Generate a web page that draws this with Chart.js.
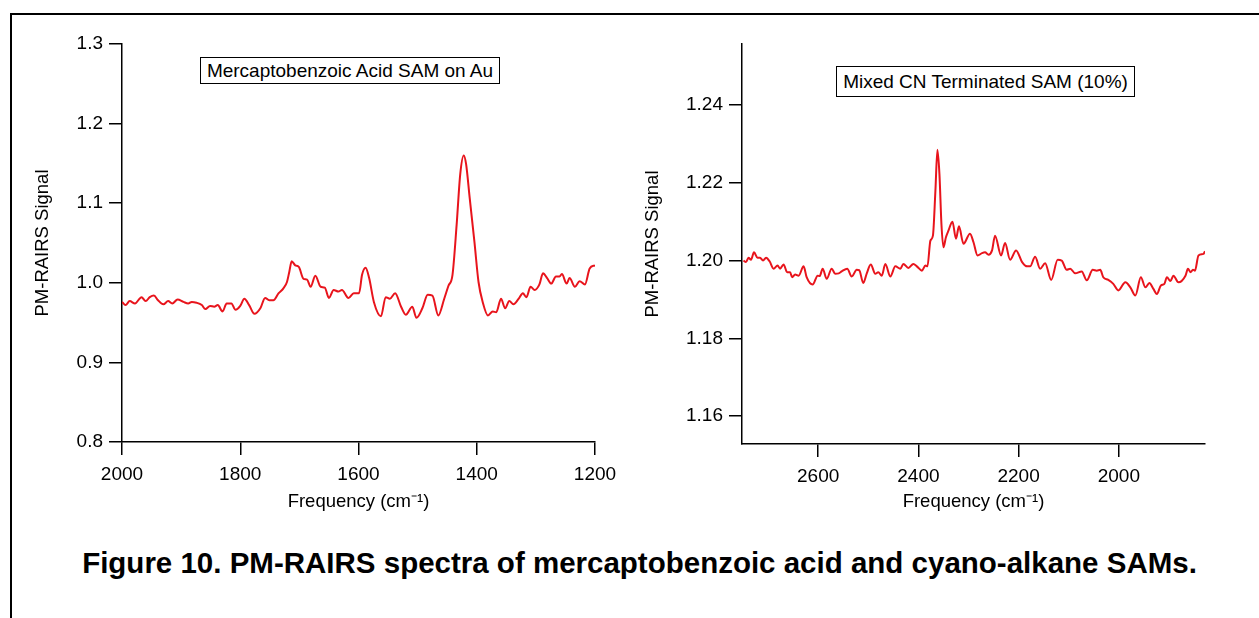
<!DOCTYPE html>
<html>
<head>
<meta charset="utf-8">
<script src="https://cdn.jsdelivr.net/npm/chart.js@4.4.1/dist/chart.umd.min.js"></script>
<style>
    body { margin: 0; width: 1259px; height: 618px; overflow: hidden; background: #fff; position: relative; font-family: "Liberation Sans", Arial, sans-serif; }
    .frame { position: absolute; left: 10px; top: 13px; width: 1260px; height: 620px; border-top: 2px solid #000; border-left: 2px solid #000; }
    canvas { position: absolute; top: 0; }
    #leftChart { left: 0; }
    #rightChart { left: 630px; }
    .note { position: absolute; border: 1.5px solid #000; background: #fff; font-size: 19px; color: #000; white-space: nowrap; text-align: center; }
    #leftNote { left: 200px; top: 57px; width: 298px; height: 25px; line-height: 25px; }
    #rightNote { left: 836px; top: 66px; width: 297px; height: 29px; line-height: 29px; }
    .caption { position: absolute; left: 0; width: 1279px; top: 546px; text-align: center; font-weight: bold; font-size: 29.5px; color: #000; }
</style>
</head>
<body>
<div class="frame"></div>
<canvas id="leftChart" width="630" height="520"></canvas>
<canvas id="rightChart" width="629" height="520"></canvas>
<div class="note" id="leftNote">Mercaptobenzoic Acid SAM on Au</div>
<div class="note" id="rightNote">Mixed CN Terminated SAM (10%)</div>
<div class="caption">Figure 10. PM-RAIRS spectra of mercaptobenzoic acid and cyano-alkane SAMs.</div>
<script>
// Mercaptobenzoic acid spectrum (frequency in cm-1, PM-RAIRS signal)
const leftFreq = [2000, 1994, 1987, 1978, 1967, 1960, 1953, 1946, 1939, 1930,
    1922, 1915, 1906, 1896, 1888, 1882, 1874, 1865, 1859, 1851,
    1844, 1838, 1830, 1823, 1815, 1808, 1800, 1793, 1785, 1776,
    1766, 1758, 1751, 1744, 1735, 1727, 1721, 1717, 1713, 1707,
    1701, 1693, 1687, 1681, 1673, 1664, 1657, 1650, 1642, 1634,
    1628, 1617, 1608, 1599, 1594, 1588, 1582, 1574, 1562, 1554,
    1547, 1538, 1528, 1520, 1509, 1502, 1492, 1483, 1475, 1465,
    1455, 1448, 1441, 1434, 1428, 1422, 1418, 1412, 1404, 1397,
    1390, 1381, 1373, 1367, 1359, 1352, 1345, 1338, 1329, 1322,
    1316, 1309, 1302, 1294, 1288, 1281, 1274, 1266, 1260, 1256,
    1248, 1243, 1234, 1226, 1217, 1209, 1200];
const leftSignal = [0.976, 0.972, 0.977, 0.974, 0.982, 0.977, 0.982, 0.984, 0.978, 0.973,
    0.977, 0.974, 0.979, 0.976, 0.974, 0.976, 0.975, 0.972, 0.967, 0.971,
    0.970, 0.972, 0.964, 0.974, 0.974, 0.966, 0.971, 0.980, 0.972, 0.961,
    0.968, 0.981, 0.978, 0.978, 0.987, 0.993, 1.001, 1.014, 1.027, 1.022,
    1.020, 1.005, 1.004, 0.995, 1.009, 0.995, 0.994, 0.981, 0.991, 0.989,
    0.991, 0.981, 0.987, 0.987, 1.010, 1.019, 1.006, 0.976, 0.958, 0.982,
    0.980, 0.987, 0.970, 0.960, 0.970, 0.956, 0.968, 0.985, 0.984, 0.959,
    0.980, 0.996, 1.010, 1.073, 1.136, 1.160, 1.149, 1.107, 1.052, 1.001,
    0.976, 0.959, 0.964, 0.963, 0.980, 0.968, 0.977, 0.973, 0.980, 0.987,
    0.982, 0.995, 0.991, 0.998, 1.012, 1.006, 0.999, 1.008, 1.008, 1.011,
    0.999, 1.006, 0.995, 1.002, 0.998, 1.018, 1.022];

// Mixed CN terminated SAM spectrum
const rightFreq = [2749, 2744, 2739, 2734, 2728, 2721, 2716, 2710, 2704, 2697,
    2689, 2681, 2676, 2669, 2662, 2656, 2652, 2646, 2639, 2629,
    2623, 2611, 2601, 2597, 2591, 2583, 2573, 2566, 2559, 2553,
    2542, 2533, 2523, 2518, 2510, 2503, 2495, 2486, 2480, 2473,
    2466, 2456, 2446, 2436, 2430, 2420, 2410, 2403, 2393, 2386,
    2382, 2376, 2371, 2366, 2362, 2358, 2354, 2350, 2345, 2340,
    2332, 2325, 2319, 2310, 2297, 2290, 2282, 2273, 2267, 2260,
    2253, 2247, 2235, 2227, 2217, 2205, 2193, 2183, 2177, 2167,
    2157, 2147, 2135, 2122, 2114, 2104, 2097, 2087, 2074, 2064,
    2052, 2044, 2037, 2031, 2021, 2011, 2001, 1987, 1977, 1967,
    1956, 1947, 1939, 1931, 1924, 1916, 1909, 1904, 1897, 1891,
    1881, 1867, 1862, 1857, 1852, 1848, 1841, 1831, 1828];
const rightSignal = [1.2000, 1.1996, 1.2007, 1.2002, 1.2021, 1.2007, 1.2007, 1.2000, 1.2007, 1.1998,
    1.1979, 1.1987, 1.1979, 1.1990, 1.1970, 1.1970, 1.1957, 1.1964, 1.1961, 1.1985,
    1.1957, 1.1938, 1.1961, 1.1960, 1.1979, 1.1953, 1.1979, 1.1966, 1.1967, 1.1972,
    1.1979, 1.1959, 1.1976, 1.1975, 1.1942, 1.1967, 1.1990, 1.1966, 1.1970, 1.1961,
    1.1991, 1.1959, 1.1985, 1.1979, 1.1991, 1.1981, 1.1991, 1.1985, 1.1974, 1.1987,
    1.1985, 1.2051, 1.2064, 1.2180, 1.2285, 1.2223, 1.2094, 1.2034, 1.2060, 1.2077,
    1.2100, 1.2056, 1.2088, 1.2043, 1.2069, 1.2047, 1.2013, 1.2019, 1.2021, 1.2015,
    1.2026, 1.2064, 1.2013, 1.2045, 1.2002, 1.2026, 1.1996, 1.1985, 1.1985, 1.2010,
    1.1979, 1.1993, 1.1950, 1.2002, 1.2000, 1.1976, 1.1979, 1.1967, 1.1972, 1.1949,
    1.1976, 1.1974, 1.1976, 1.1957, 1.1950, 1.1940, 1.1923, 1.1944, 1.1931, 1.1910,
    1.1957, 1.1931, 1.1942, 1.1927, 1.1914, 1.1936, 1.1940, 1.1957, 1.1947, 1.1961,
    1.1944, 1.1961, 1.1979, 1.1970, 1.1976, 1.1974, 1.2013, 1.2017, 1.2024];

// Tick labels
const leftXTicks = [2000, 1800, 1600, 1400, 1200];
const leftYTicks = [0.8, 0.9, 1.0, 1.1, 1.2, 1.3];
const rightXTicks = [2600, 2400, 2200, 2000];
const rightYTicks = [1.16, 1.18, 1.20, 1.22, 1.24];

const lineColor = '#e8141c';
const tickFont = { family: 'Liberation Sans, Arial, sans-serif', size: 19 };
const titleFont = { family: 'Liberation Sans, Arial, sans-serif', size: 18.5 };

function toPoints(xs, ys) {
    return xs.map((x, i) => ({ x: x, y: ys[i] }));
}

function axisStyle() {
    return {
        grid: { display: true, drawOnChartArea: false, drawTicks: true, tickLength: 13, color: '#000', lineWidth: 1.5 },
        border: { display: true, color: '#000', width: 1.5 },
    };
}

function makeChart(id, opts) {
    const ctx = document.getElementById(id).getContext('2d');
    return new Chart(ctx, {
        type: 'line',
        data: {
            datasets: [{
                data: toPoints(opts.xs, opts.ys),
                borderColor: lineColor,
                borderWidth: 2,
                pointRadius: 0,
                fill: false,
                cubicInterpolationMode: 'monotone',
            }],
        },
        options: {
            responsive: false,
            animation: false,
            layout: { padding: opts.padding },
            plugins: { legend: { display: false }, tooltip: { enabled: false } },
            scales: {
                x: Object.assign(axisStyle(), {
                    type: 'linear',
                    reverse: true,
                    min: opts.xMin,
                    max: opts.xMax,
                    afterBuildTicks: scale => { scale.ticks = opts.xTicks.map(v => ({ value: v })); },
                    afterFit: scale => { scale.height = opts.xHeight; },
                    ticks: { color: '#000', font: tickFont, padding: 8, maxRotation: 0, callback: v => String(v) },
                    title: { display: true, text: 'Frequency (cm\u207B\u00B9)', color: '#000', font: titleFont, padding: { top: 0, bottom: 7 } },
                }),
                y: Object.assign(axisStyle(), {
                    min: opts.yMin,
                    max: opts.yMax,
                    afterBuildTicks: scale => { scale.ticks = opts.yTicks.map(v => ({ value: v })); },
                    afterFit: scale => { scale.width = opts.yWidth; },
                    ticks: { color: '#000', font: tickFont, padding: 6, callback: v => v.toFixed(opts.yDigits) },
                    title: { display: true, text: 'PM-RAIRS Signal', color: '#000', font: titleFont, padding: { top: opts.yTitlePad, bottom: 0 } },
                }),
            },
        },
    });
}

makeChart('leftChart', {
    xs: leftFreq, ys: leftSignal,
    xMin: 1200, xMax: 2000, yMin: 0.8, yMax: 1.3,
    xTicks: leftXTicks, yTicks: leftYTicks, yDigits: 1,
    padding: { left: 20, top: 44, right: 35, bottom: 0 },
    xHeight: 78, yWidth: 102, yTitlePad: 12,
});

makeChart('rightChart', {
    xs: rightFreq, ys: rightSignal,
    xMin: 1828, xMax: 2752, yMin: 1.1528, yMax: 1.2557,
    xTicks: rightXTicks, yTicks: rightYTicks, yDigits: 2,
    padding: { left: 10, top: 44, right: 54, bottom: 0 },
    xHeight: 76, yWidth: 102, yTitlePad: 2,
});
</script>
</body>
</html>
